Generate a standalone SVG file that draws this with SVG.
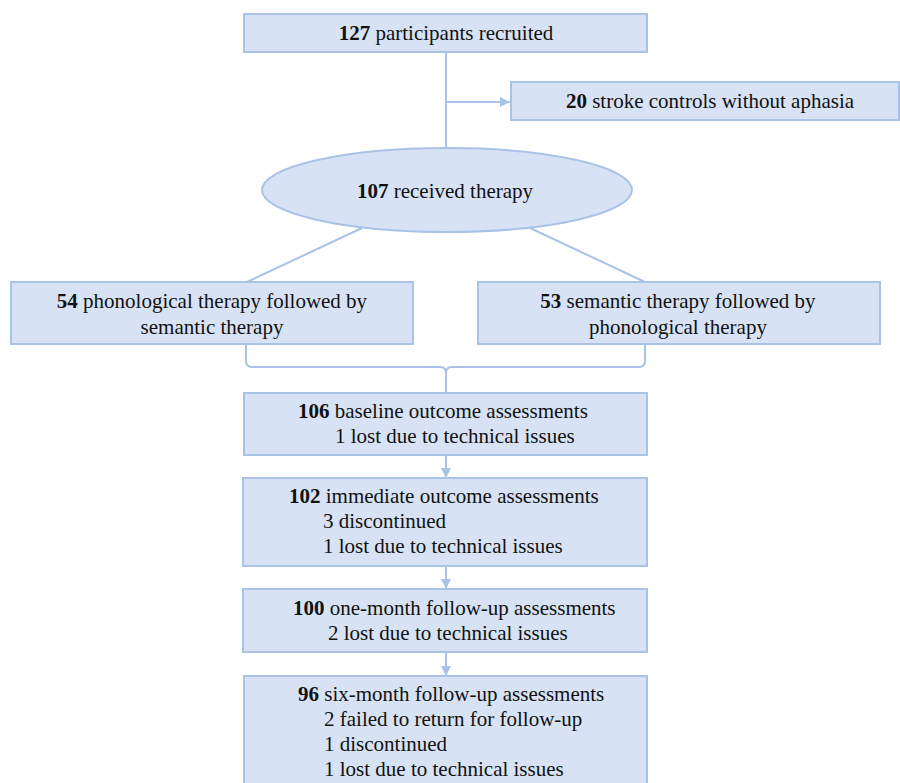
<svg xmlns="http://www.w3.org/2000/svg" width="900" height="783" viewBox="0 0 900 783">
<style>
.box{fill:#d7e3f4;stroke:#a8c3e6;stroke-width:2}
.ln{fill:none;stroke:#a8c3e6;stroke-width:2}
text{font-family:'Liberation Serif','Times New Roman','DejaVu Serif',serif;font-size:21px;fill:#111}
.c{text-anchor:middle}
.b{font-weight:bold}
</style>
<defs>
<marker id="ah" viewBox="0 0 10 10" refX="10" refY="5" markerWidth="5" markerHeight="5" orient="auto" markerUnits="strokeWidth">
<path d="M0,0 L10,5 L0,10 z" fill="#a8c3e6"/>
</marker>
</defs>
<rect width="900" height="783" fill="#fff"/>
<g id="connectors">
<path class="ln" d="M446,52 V148"/>
<path class="ln" d="M446,102 H510" marker-end="url(#ah)"/>
<path class="ln" d="M362,228 L247,282"/>
<path class="ln" d="M530,228 L645,282"/>
<path class="ln" d="M246,344 V361 Q246,367 252,367 H440 Q446,367 446,373 V393"/>
<path class="ln" d="M645,344 V361 Q645,367 639,367 H452 Q446,367 446,373"/>
<path class="ln" d="M446,455 V478" marker-end="url(#ah)"/>
<path class="ln" d="M446,566 V589" marker-end="url(#ah)"/>
<path class="ln" d="M446,652 V676" marker-end="url(#ah)"/>
</g>
<g font-family="'Liberation Serif', serif">
<g id="n1">
<rect class="box" x="244" y="14" width="403" height="38"/>
<text class="c" x="446" y="40"><tspan class="b">127</tspan> participants recruited</text>
</g>
<g id="n2">
<rect class="box" x="511" y="82" width="388" height="38"/>
<text class="c" x="710" y="108"><tspan class="b">20</tspan> stroke controls without aphasia</text>
</g>
<g id="n3">
<ellipse class="box" cx="447" cy="190" rx="185" ry="42"/>
<text class="c" x="445" y="198"><tspan class="b">107</tspan> received therapy</text>
</g>
<g id="n4">
<rect class="box" x="11" y="282" width="402" height="62"/>
<text class="c" x="212" y="308"><tspan class="b">54</tspan> phonological therapy followed by</text>
<text class="c" x="212" y="334">semantic therapy</text>
</g>
<g id="n5">
<rect class="box" x="478" y="282" width="402" height="62"/>
<text class="c" x="678" y="308"><tspan class="b">53</tspan> semantic therapy followed by</text>
<text class="c" x="678" y="334">phonological therapy</text>
</g>
<g id="n6">
<rect class="box" x="244" y="393" width="403" height="62"/>
<text x="298" y="418"><tspan class="b">106</tspan> baseline outcome assessments</text>
<text x="335" y="443">1 lost due to technical issues</text>
</g>
<g id="n7">
<rect class="box" x="243" y="478" width="404" height="88"/>
<text x="289" y="503"><tspan class="b">102</tspan> immediate outcome assessments</text>
<text x="323" y="528">3 discontinued</text>
<text x="323" y="553">1 lost due to technical issues</text>
</g>
<g id="n8">
<rect class="box" x="243" y="589" width="404" height="63"/>
<text x="293" y="615"><tspan class="b">100</tspan> one-month follow-up assessments</text>
<text x="328" y="640">2 lost due to technical issues</text>
</g>
<g id="n9">
<rect class="box" x="244" y="676" width="403" height="112"/>
<text x="298" y="701"><tspan class="b">96</tspan> six-month follow-up assessments</text>
<text x="324" y="726">2 failed to return for follow-up</text>
<text x="324" y="751">1 discontinued</text>
<text x="324" y="776">1 lost due to technical issues</text>
</g>
</g>
</svg>
